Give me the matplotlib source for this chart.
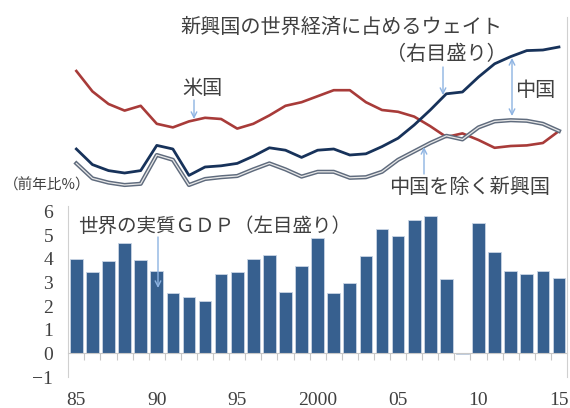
import numpy as np
import matplotlib
matplotlib.use('Agg')
import matplotlib.pyplot as plt

plt.rcParams['font.family'] = ['Noto Sans CJK JP', 'DejaVu Sans']

# 年
years = np.arange(1985, 2016)

# 世界の実質GDP成長率（前年比%、左目盛り）
gdp = [4.0, 3.43, 3.9, 4.69, 3.94, 3.5, 2.54, 2.4, 2.22, 3.38,
       3.43, 4.0, 4.17, 2.61, 3.7, 4.9, 2.56, 3.0, 4.12, 5.28,
       4.96, 5.65, 5.8, 3.14, -0.02, 5.52, 4.31, 3.5, 3.36, 3.5, 3.18]

# 世界経済に占めるウェイト（右目盛り、目盛り値なし）
us = [25.5, 23.8, 22.75, 22.2, 22.6, 21.1, 20.8, 21.3, 21.6, 21.5,
      20.7, 21.1, 21.8, 22.6, 22.9, 23.4, 23.9, 23.9, 22.9, 22.25,
      22.1, 21.7, 20.9, 20.0, 20.3, 19.75, 19.1, 19.25, 19.3, 19.5, 20.5]
emerging = [19.0, 17.7, 17.2, 17.0, 17.2, 19.3, 19.0, 16.8, 17.5, 17.6,
            17.8, 18.4, 19.1, 18.9, 18.3, 18.9, 19.0, 18.5, 18.6, 19.2,
            19.9, 21.0, 22.25, 23.6, 23.75, 25.0, 26.1, 26.7, 27.2, 27.25, 27.5]
ex_china = [17.8, 16.55, 16.2, 16.0, 16.1, 18.5, 18.1, 16.0, 16.5, 16.65,
            16.75, 17.3, 17.8, 17.3, 16.7, 17.1, 17.1, 16.6, 16.65, 17.1,
            18.1, 18.8, 19.5, 20.1, 19.8, 20.8, 21.3, 21.4, 21.35, 21.1, 20.5]

tick_years = [1985, 1990, 1995, 2000, 2005, 2010, 2015]
tick_labels = ['85', '90', '95', '2000', '05', '10', '15']

W, H = 570, 408
fig = plt.figure(figsize=(W / 100, H / 100), dpi=100)
ax = fig.add_axes([68.3 / W, 1 - 377 / H, (567 - 68.3) / W, 360 / H])

txt = '#404040'
arrow_c = '#8db3e2'
serif = 'Liberation Serif'

# 棒グラフ
ax.bar(years, gdp, width=0.79, color='#37608f', edgecolor='#c9d5e4', linewidth=0.6, zorder=2)
ax.set_xlim(1984.5, 2015.5)
ax.set_ylim(-1, 14.25)

for s in ['top', 'right']:
    ax.spines[s].set_visible(False)
ax.spines['left'].set_bounds(-1, 6.25)
ax.spines['left'].set_color('#d0d0d0')
ax.spines['bottom'].set_position(('data', 0))
ax.spines['bottom'].set_color('#c8c8c8')

ax.set_yticks(range(-1, 7))
ax.set_yticklabels(['\u22121'] + [str(i) for i in range(0, 7)], fontfamily=serif, fontsize=14, color=txt)
ax.tick_params(axis='y', length=0, pad=11)

ax.set_xticks(tick_years)
ax.set_xticklabels(tick_labels, fontfamily=serif, fontsize=14, color=txt)
ax.set_xticks(np.arange(1985.5, 2015.5, 1), minor=True)
ax.tick_params(axis='x', which='major', length=0, pad=28)
ax.tick_params(axis='x', which='minor', length=5, color='#c8c8c8', width=0.8)

# 折れ線（右目盛り）
ax2 = ax.twinx()
ax2.set_ylim(0, 30)
ax2.set_yticks([])
for s in ['top', 'left', 'bottom']:
    ax2.spines[s].set_visible(False)
ax2.spines['right'].set_color('#d0d0d0')

ax2.plot(years, us, color='#a83b39', lw=1.9, zorder=3)
ax2.plot(years, ex_china, color='#5f6b7d', lw=3.0, zorder=3)
ax2.plot(years, ex_china, color='#e8e8e8', lw=0.9, zorder=4)
ax2.plot(years, emerging, color='#17325a', lw=2.0, zorder=5)


def px(x, y):
    return (x / W, 1 - y / H)


def label(x, y, s, size=14.5, ha='center'):
    fig.text(x / W, 1 - y / H, s, fontsize=size, color=txt, ha=ha, va='center')


def arrow(x0, y0, x1, y1, style='->'):
    ax2.annotate('', xy=px(x1, y1), xytext=px(x0, y0),
                 xycoords='figure fraction', textcoords='figure fraction',
                 arrowprops=dict(arrowstyle=style, color=arrow_c, lw=1.0,
                                 shrinkA=0, shrinkB=0))


label(341, 27, '新興国の世界経済に占めるウェイト')
label(446, 55, '（右目盛り）')
label(202, 88, '米国')
label(535, 91, '中国')
label(470, 188, '中国を除く新興国')
label(78, 226, '世界の実質ＧＤＰ（左目盛り）', size=14, ha='left')
label(47, 185, '（前年比%）', size=10.5)

arrow(194, 100, 194, 119)
arrow(443, 67, 443, 95)
arrow(512, 58, 512, 116, style='<->')
arrow(424, 174, 424, 147)
arrow(158, 237, 158, 288)

fig.savefig('out.png', dpi=100)
